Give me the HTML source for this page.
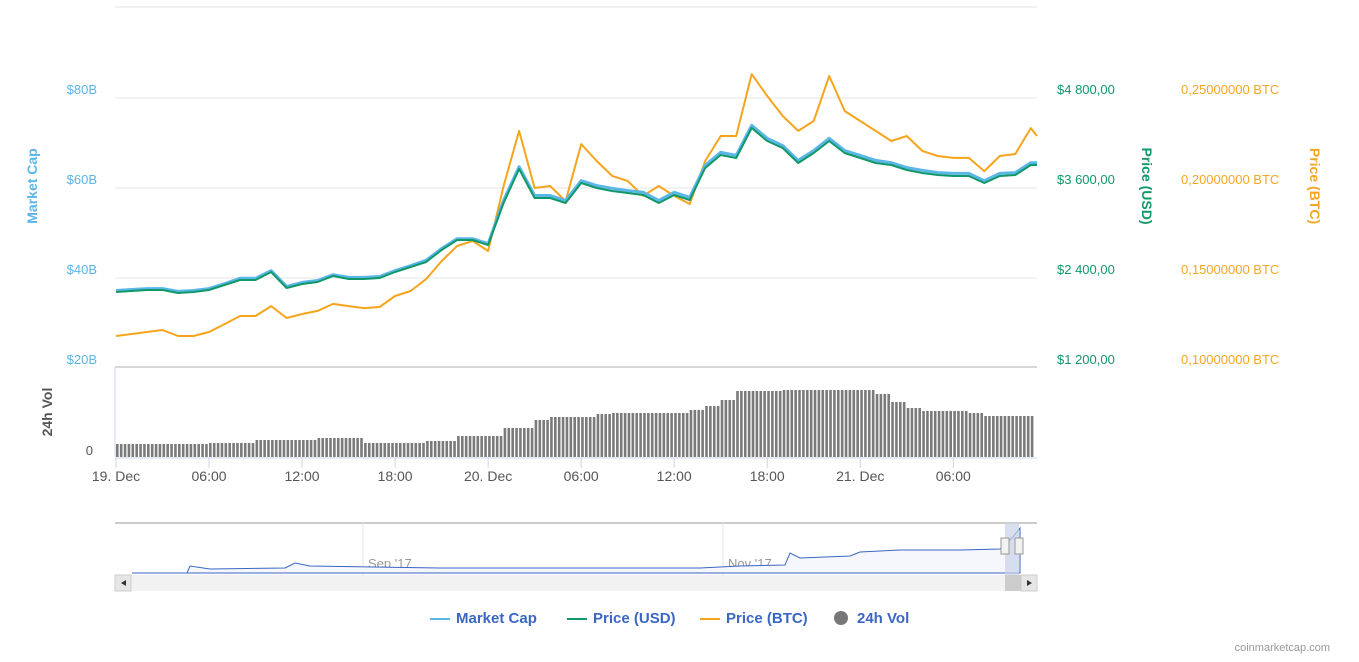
<!DOCTYPE html>
<html><head><meta charset="utf-8"><style>
body{margin:0;background:#fff;width:1359px;height:657px;overflow:hidden;font-family:"Liberation Sans",sans-serif}
svg text{font-family:"Liberation Sans",sans-serif}
</style></head><body>
<svg id="c" width="1359" height="657">
<g id="grid"></g><g id="vol"></g><g id="lines"></g><g id="axes"></g><g id="nav"></g>
</svg>
<script>
const hours=[0,1,2,3,4,5,6,7,8,9,10,11,12,13,14,15,16,17,18,19,20,21,22,23,24,25,26,27,28,29,30,31,32,33,34,35,36,37,38,39,40,41,42,43,44,45,46,47,48,49,50,51,52,53,54,55,56,57,58,59,59.4];
const marketCapB=[36.9,37.1,37.3,37.3,36.7,36.9,37.3,38.4,39.6,39.6,41.3,37.8,38.7,39.1,40.4,39.8,39.8,40,41.3,42.4,43.6,46.2,48.4,48.4,47.3,56.9,64.4,58,58,56.9,61.3,60.2,59.6,59.1,58.7,56.9,58.7,57.6,64.7,67.6,66.9,73.6,70.7,69.1,65.8,68,70.7,68,66.9,65.8,65.3,64.2,63.6,63.1,62.9,62.9,61.3,62.9,63.1,65.3,65.3];
const priceUSD=[2213,2227,2240,2240,2200,2213,2240,2307,2373,2373,2480,2267,2320,2347,2427,2387,2387,2400,2480,2547,2613,2773,2907,2907,2840,3400,3853,3467,3467,3400,3667,3600,3560,3533,3507,3400,3507,3440,3867,4040,4000,4400,4227,4133,3933,4067,4227,4067,4000,3933,3907,3840,3800,3773,3760,3760,3667,3760,3773,3907,3907];
const priceBTC=[0.1178,0.1189,0.12,0.1211,0.1178,0.1178,0.12,0.1244,0.1289,0.1289,0.1344,0.1278,0.13,0.1317,0.1356,0.1344,0.1333,0.1339,0.14,0.1428,0.1494,0.1594,0.1678,0.1706,0.165,0.2011,0.2317,0.2,0.2011,0.1928,0.2244,0.215,0.2067,0.2039,0.1956,0.2011,0.1956,0.1911,0.215,0.2289,0.2289,0.2633,0.2511,0.24,0.2317,0.2372,0.2622,0.2428,0.2372,0.2317,0.2261,0.2289,0.2206,0.2178,0.2167,0.2167,0.2094,0.2178,0.2189,0.2333,0.2289];
const volume=[13,13,13,13,13,13,14,14,14,17,17,17,17,19,19,19,14,14,14,14,16,16,21,21,21,29,29,37,40,40,40,43,44,44,44,44,44,47,51,57,66,66,66,67,67,67,67,67,67,63,55,49,46,46,46,44,41,41,41,41,41];
const ns='http://www.w3.org/2000/svg';
function mk(p,t,a){const e=document.createElementNS(ns,t);for(const k in a)e.setAttribute(k,a[k]);p.appendChild(e);return e;}
const X=h=>116+h*(921/59.4);
const Ymc=v=>98+(80-v)*4.5;
const Yusd=v=>98+(4800-v)/1200*90;
const Ybtc=v=>98+(0.25-v)/0.05*90;
const Yvol=v=>457-v;
const g=document.getElementById('grid'),ax=document.getElementById('axes');
[7,98,188,278].forEach(y=>{const l=mk(g,'line',{x1:115,x2:1037,y1:y,y2:y,stroke:'#e6e6e6'});});
mk(g,'line',{x1:115,x2:1037,y1:367,y2:367,stroke:'#d8d8d8','stroke-width':2});
mk(g,'line',{x1:115,x2:115,y1:367,y2:457,stroke:'#ccd6eb'});
mk(g,'line',{x1:115,x2:1037,y1:458,y2:458,stroke:'#ccd6eb'});
function txt(p,x,y,s,a,name){const t=mk(p,'text',Object.assign({x:x,y:y},a));t.textContent=s;return t;}
const mcT=['$80B','$60B','$40B','$20B'],mcV=[80,60,40,20];
mcV.forEach((v,i)=>txt(ax,97,Ymc(v)-4,mcT[i],{'text-anchor':'end','font-size':13,fill:'#5bb6e8'},'market-cap-tick'));
const usdT=['$4 800,00','$3 600,00','$2 400,00','$1 200,00'],usdV=[4800,3600,2400,1200];
usdV.forEach((v,i)=>txt(ax,1057,Yusd(v)-4,usdT[i],{'font-size':13,fill:'#109868'},'usd-tick'));
const btcT=['0,25000000 BTC','0,20000000 BTC','0,15000000 BTC','0,10000000 BTC'],btcV=[0.25,0.2,0.15,0.1];
btcV.forEach((v,i)=>txt(ax,1181,Ybtc(v)-4,btcT[i],{'font-size':13,fill:'#f5a623'},'btc-tick'));
txt(ax,37,186,'Market Cap',{'font-size':14,'font-weight':'bold',fill:'#5bb6e8','text-anchor':'middle',transform:'rotate(-90 37 186)'},'market-cap-axis-title');
txt(ax,1142,186,'Price (USD)',{'font-size':14,'font-weight':'bold',fill:'#109868','text-anchor':'middle',transform:'rotate(90 1142 186)'},'usd-axis-title');
txt(ax,1310,186,'Price (BTC)',{'font-size':14,'font-weight':'bold',fill:'#f5a623','text-anchor':'middle',transform:'rotate(90 1310 186)'},'btc-axis-title');
txt(ax,52,412,'24h Vol',{'font-size':14,'font-weight':'bold',fill:'#555','text-anchor':'middle',transform:'rotate(-90 52 412)'},'volume-axis-title');
txt(ax,93,455,'0',{'font-size':13,fill:'#555','text-anchor':'end'},'volume-tick');
const xT=['19. Dec','06:00','12:00','18:00','20. Dec','06:00','12:00','18:00','21. Dec','06:00'],xH=[0,6,12,18,24,30,36,42,48,54];
xH.forEach((h,i)=>{mk(ax,'line',{x1:X(h),x2:X(h),y1:458,y2:468,stroke:'#ccd6eb'});txt(ax,X(h),481,xT[i],{'font-size':14,fill:'#555','text-anchor':'middle'},'x-tick-label');});
const vg=document.getElementById('vol');
for(let i=0;i<hours.length-1;i++){for(let q=0;q<4;q++){const x=X(hours[i]+q*0.25);if(x>1034)continue;const b=mk(vg,'rect',{x:x,y:Yvol(volume[i]),width:2.6,height:volume[i],fill:'#7a7a7a'});

}}
const lg=document.getElementById('lines');
function line(vals,yf,col,w,name){const d=vals.map((v,i)=>(i?'L':'M')+X(hours[i]).toFixed(1)+','+yf(v).toFixed(1)).join('');const p=mk(lg,'path',{d:d,fill:'none',stroke:col,'stroke-width':w,'stroke-linejoin':'round'});}
line(priceBTC,Ybtc,'#f7a41d',2,'price-btc-line');
line(marketCapB,v=>Ymc(v)-1.5,'#5bb6e8',3,'market-cap-line');
line(priceUSD,Yusd,'#109868',2,'price-usd-line');
const nv=document.getElementById('nav');
mk(nv,'line',{x1:115,x2:1037,y1:523,y2:523,stroke:'#ccc','stroke-width':2});
mk(nv,'line',{x1:363,x2:363,y1:523,y2:575,stroke:'#e6e6e6'});
mk(nv,'line',{x1:723,x2:723,y1:523,y2:575,stroke:'#e6e6e6'});
txt(nv,368,568,"Sep '17",{'font-size':13,fill:'#999'},'nav-label');
txt(nv,728,568,"Nov '17",{'font-size':13,fill:'#999'},'nav-label');
mk(nv,'path',{d:'M132,573L187,573L190,566L210,569L285,568L295,563L310,566L440,568L620,568L700,568L740,566L785,565L790,553L800,558L850,556L860,552L900,550L960,550L1000,549L1012,538L1020,528L1020,573L132,573Z',fill:'#f5f7fc',stroke:'#3a66c4','stroke-width':1});
const sel=mk(nv,'rect',{x:1005,y:523,width:14,height:52,fill:'#c7d1e8','fill-opacity':0.7});
[1005,1019].forEach(x=>{const h=mk(nv,'rect',{x:x-4,y:538,width:8,height:16,fill:'#f2f2f2',stroke:'#999'});});
const sb=mk(nv,'rect',{x:115,y:575,width:922,height:16,fill:'#f2f2f2'});
mk(nv,'rect',{x:1005,y:575,width:16,height:16,fill:'#ccc'});
mk(nv,'rect',{x:115,y:575,width:16,height:16,fill:'#e6e6e6',stroke:'#ccc'});
mk(nv,'rect',{x:1021,y:575,width:16,height:16,fill:'#e6e6e6',stroke:'#ccc'});
mk(nv,'path',{d:'M126,580L121,583L126,586Z',fill:'#333'});
mk(nv,'path',{d:'M1027,580L1032,583L1027,586Z',fill:'#333'});
</script>
<div style="position:absolute;left:0;top:610px;width:1359px;font-size:15px;font-weight:bold;color:#3a66c4">
<span style="position:absolute;left:430px;white-space:nowrap"><span style="display:inline-block;width:20px;height:2px;background:#5bb6e8;vertical-align:middle;margin-right:6px"></span>Market Cap</span>
<span style="position:absolute;left:567px;white-space:nowrap"><span style="display:inline-block;width:20px;height:2px;background:#109868;vertical-align:middle;margin-right:6px"></span>Price (USD)</span>
<span style="position:absolute;left:700px;white-space:nowrap"><span style="display:inline-block;width:20px;height:2px;background:#f7a41d;vertical-align:middle;margin-right:6px"></span>Price (BTC)</span>
<span style="position:absolute;left:834px;white-space:nowrap"><span style="display:inline-block;width:14px;height:14px;border-radius:7px;background:#777;vertical-align:-2px;margin-right:9px"></span>24h Vol</span>
</div>
<div style="position:absolute;right:29px;top:642px;font-size:11px;color:#999">coinmarketcap.com</div>
</body></html>
